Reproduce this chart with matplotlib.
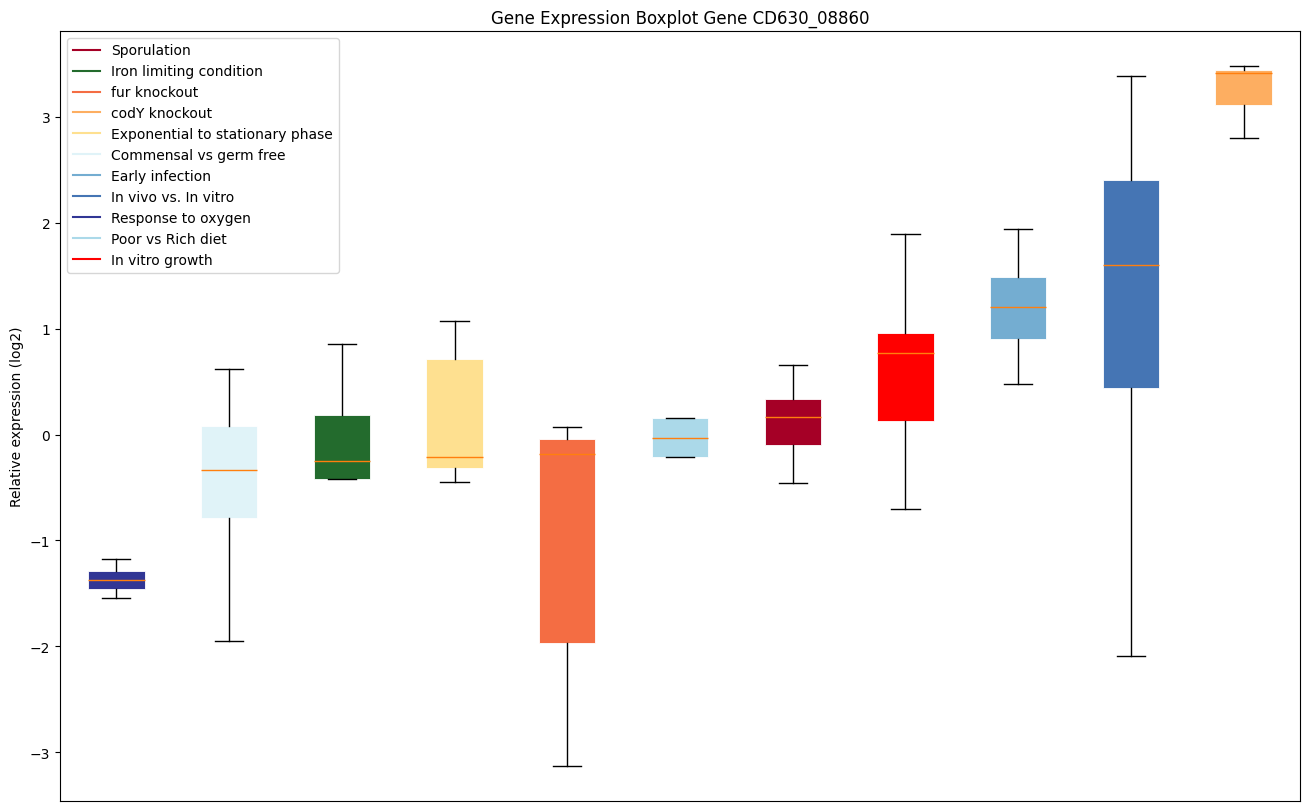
import matplotlib
matplotlib.use("Agg")
import matplotlib.pyplot as plt
from matplotlib.lines import Line2D

# box order, left to right
conditions = [
    "Response to oxygen", "Commensal vs germ free", "Iron limiting condition",
    "Exponential to stationary phase", "fur knockout", "Poor vs Rich diet",
    "Sporulation", "In vitro growth", "Early infection", "In vivo vs. In vitro",
    "codY knockout",
]
whislo = [-1.54, -1.95, -0.42, -0.45, -3.13, -0.21, -0.46, -0.70, 0.48, -2.09, 2.80]
q1 = [-1.46, -0.79, -0.42, -0.32, -1.97, -0.21, -0.10, 0.13, 0.90, 0.44, 3.11]
med = [-1.37, -0.335, -0.25, -0.215, -0.18, -0.03, 0.165, 0.77, 1.205, 1.60, 3.41]
q3 = [-1.29, 0.08, 0.185, 0.715, -0.04, 0.155, 0.335, 0.96, 1.49, 2.405, 3.44]
whishi = [-1.18, 0.62, 0.855, 1.07, 0.07, 0.16, 0.66, 1.89, 1.94, 3.39, 3.48]

colors = {
    "Sporulation": "#a50026",
    "Iron limiting condition": "#236b2d",
    "fur knockout": "#f46d43",
    "codY knockout": "#fdae61",
    "Exponential to stationary phase": "#fee090",
    "Commensal vs germ free": "#e0f3f8",
    "Early infection": "#74add1",
    "In vivo vs. In vitro": "#4575b4",
    "Response to oxygen": "#313695",
    "Poor vs Rich diet": "#abd9e9",
    "In vitro growth": "#ff0000",
}
legend_order = [
    "Sporulation", "Iron limiting condition", "fur knockout", "codY knockout",
    "Exponential to stationary phase", "Commensal vs germ free", "Early infection",
    "In vivo vs. In vitro", "Response to oxygen", "Poor vs Rich diet", "In vitro growth",
]

stats = []
for i, name in enumerate(conditions):
    stats.append({
        "label": name, "whislo": whislo[i], "q1": q1[i], "med": med[i],
        "q3": q3[i], "whishi": whishi[i], "fliers": [],
    })

fig = plt.figure(figsize=(13.09, 8.12), dpi=100)
ax = fig.add_subplot(111)
fig.subplots_adjust(left=60 / 1309, right=1300 / 1309, top=1 - 32 / 812, bottom=1 - 802 / 812)

bp = ax.bxp(stats, patch_artist=True, showfliers=False,
            medianprops=dict(color="#ff7f0e", linewidth=1))
for patch, name in zip(bp["boxes"], conditions):
    patch.set_facecolor(colors[name])
    patch.set_edgecolor("white")
    patch.set_linewidth(0.6)

handles = [Line2D([0], [0], color=colors[n], lw=1.5) for n in legend_order]
ax.legend(handles, legend_order, loc="upper left")

ax.set_xticks([])
ax.set_ylabel("Relative expression (log2)")
ax.set_title("Gene Expression Boxplot Gene CD630_08860")

fig.savefig("out.png", dpi=100)
